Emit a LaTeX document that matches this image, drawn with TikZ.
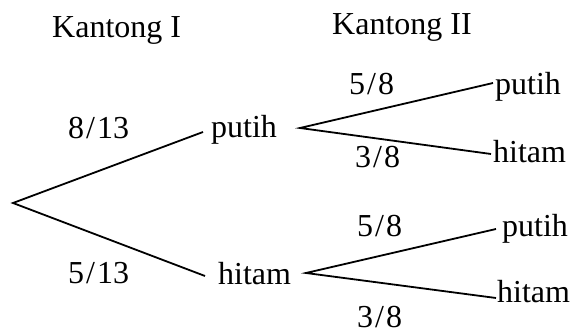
\documentclass[tikz,border=0pt]{standalone}
\usepackage{fontspec}
\setmainfont{Liberation Serif}
\newcommand{\frc}[2]{#1\kern2pt/\kern2pt#2}
\begin{document}
\begin{tikzpicture}[x=1pt,y=-1pt,
  branch/.style={line width=1.8pt},
  lbl/.style={anchor=base west,inner sep=0pt,font=\fontsize{32}{38}\selectfont}]
\useasboundingbox (0,0) rectangle (576,336);
% headings
\node[lbl] (k1) at (52,38) {Kantong I};
\node[lbl] (k2) at (332,35) {Kantong II};
% branch points
\coordinate (r)  at (13,203);
\coordinate (p1) at (203,132);
\coordinate (h1) at (205,276);
\coordinate (p1s) at (300,128);
\coordinate (h1s) at (306,273);
\coordinate (pp) at (493,83);
\coordinate (ph) at (491,154);
\coordinate (hp) at (496,229);
\coordinate (hh) at (496,298);
% first stage
\draw[branch] (p1) -- (r) -- (h1);
\node[lbl] (tp1) at (211,138) {putih};
\node[lbl] (th1) at (218,285) {hitam};
\node[lbl] (f1) at (68,139) {\frc{8}{13}};
\node[lbl] (f2) at (68,284) {\frc{5}{13}};
% second stage after putih
\draw[branch] (pp) -- (p1s) -- (ph);
\node[lbl] (tpp) at (495,95) {putih};
\node[lbl] (tph) at (493,163) {hitam};
\node[lbl] (f3) at (349,95) {\frc{5}{8}};
\node[lbl] (f4) at (355,168) {\frc{3}{8}};
% second stage after hitam
\draw[branch] (hp) -- (h1s) -- (hh);
\node[lbl] (thp) at (502,237) {putih};
\node[lbl] (thh) at (497,303) {hitam};
\node[lbl] (f5) at (357,237) {\frc{5}{8}};
\node[lbl] (f6) at (357,328) {\frc{3}{8}};
\end{tikzpicture}
\end{document}
